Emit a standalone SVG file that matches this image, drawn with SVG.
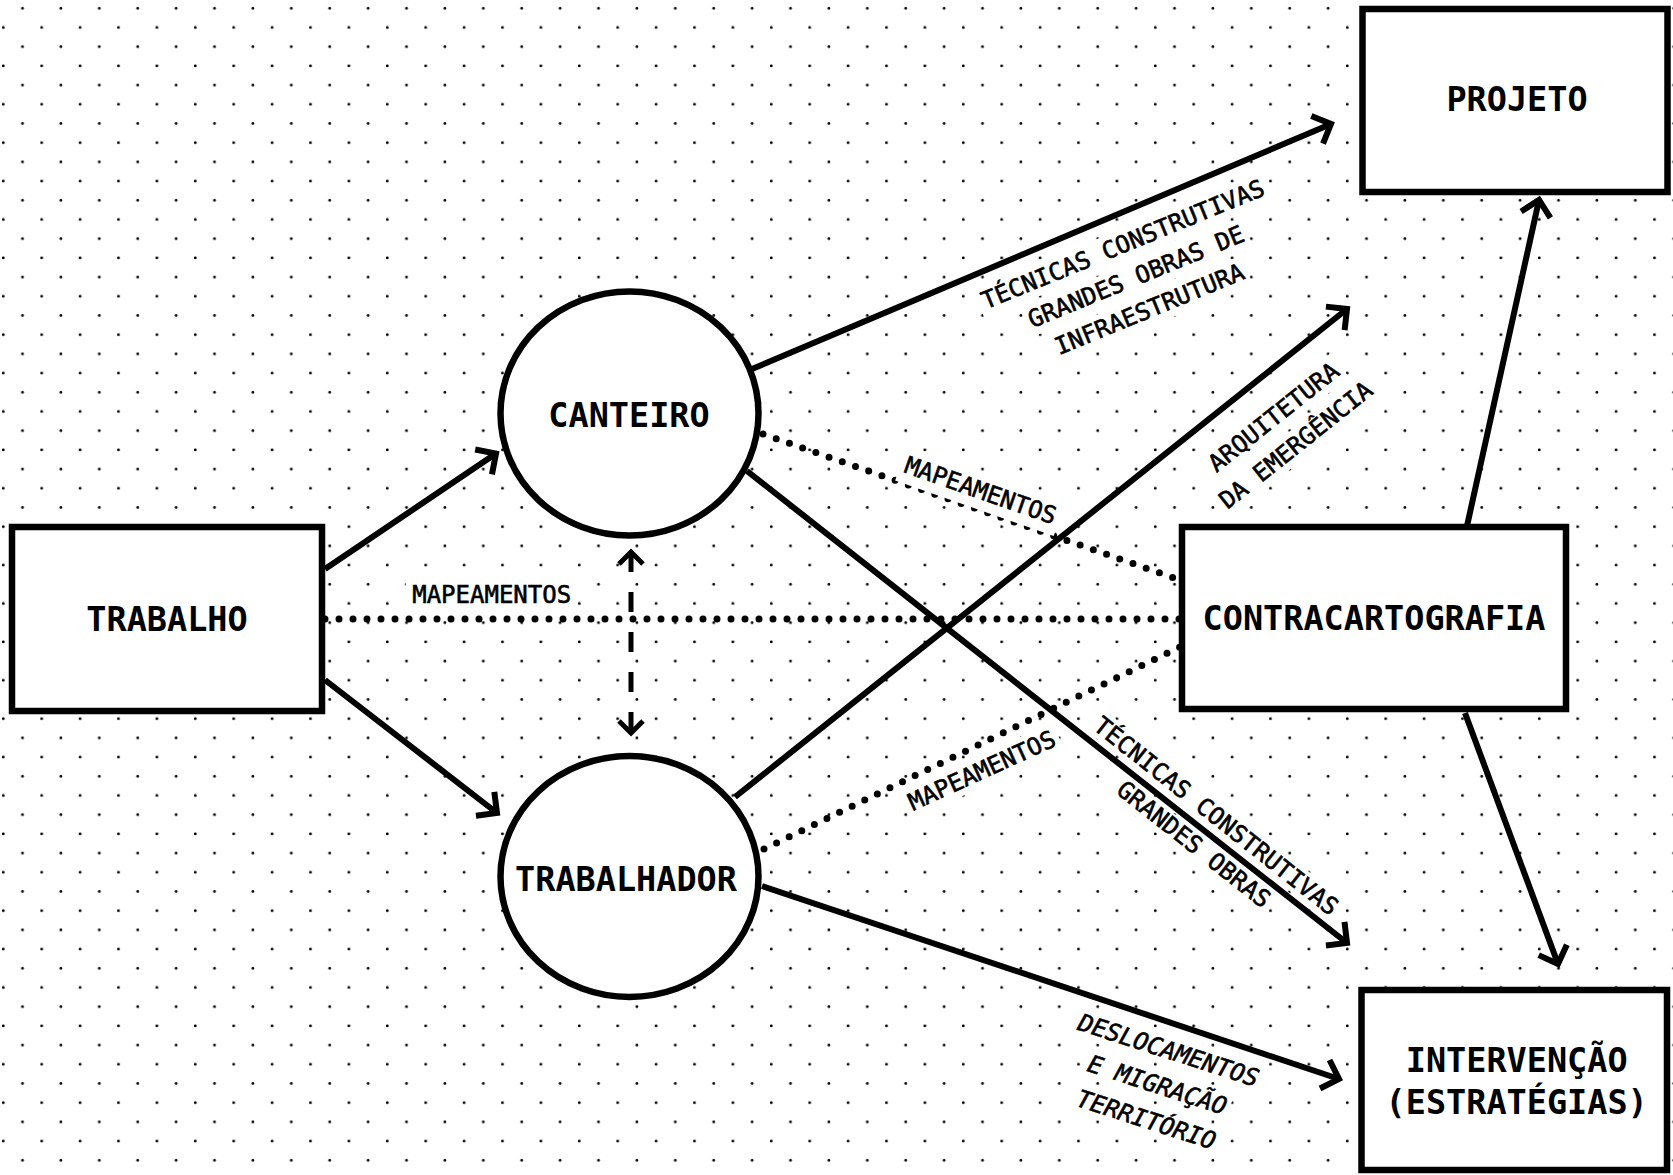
<svg xmlns="http://www.w3.org/2000/svg" width="1673" height="1175" viewBox="0 0 1673 1175">
<style>
.node{fill:#fff;stroke:#000;stroke-width:6.5}
.nt{font-family:"DejaVu Sans Mono","Liberation Mono",monospace;font-weight:bold;font-size:33.5px;fill:#000;text-anchor:middle}
.lt{font-family:"DejaVu Sans Mono","Liberation Mono",monospace;font-size:24px;fill:#000;stroke:#000;stroke-width:0.6;text-anchor:middle}
.it{font-style:italic}
.lb{fill:#fff}
.solid{fill:none;stroke:#000;stroke-width:6;marker-end:url(#ah)}
.dot{fill:none;stroke:#000;stroke-width:7;stroke-linecap:round;stroke-dasharray:0 14}
.dash{fill:none;stroke:#000;stroke-width:5;stroke-dasharray:20 20;marker-start:url(#ahs);marker-end:url(#ahs)}
</style>
<defs>
<pattern id="grid" width="38.4" height="38.4" patternUnits="userSpaceOnUse">
<circle cx="22.5" cy="8.3" r="1.4" fill="#000"/>
<circle cx="3.3" cy="27.5" r="1.4" fill="#000"/>
</pattern>
<marker id="ah" markerUnits="userSpaceOnUse" viewBox="-20 -20 40 40" markerWidth="40" markerHeight="40" refX="0" refY="0" orient="auto" overflow="visible">
<path d="M-15,-15 L0,0 L-15,15" fill="none" stroke="#000" stroke-width="6"/>
</marker>
<marker id="ahs" markerUnits="userSpaceOnUse" viewBox="-20 -20 40 40" markerWidth="40" markerHeight="40" refX="0" refY="0" orient="auto-start-reverse" overflow="visible">
<path d="M-12,-12 L0,0 L-12,12" fill="none" stroke="#000" stroke-width="5"/>
</marker>
</defs>
<rect x="0" y="0" width="1673" height="1175" fill="#fff"/>
<rect x="0" y="0" width="1673" height="1175" fill="url(#grid)"/>

<g id="connectors">
<line class="solid" x1="325" y1="569" x2="496" y2="453.5"/>
<line class="solid" x1="325" y1="680" x2="497" y2="813"/>
<line class="solid" x1="752" y1="369" x2="1331" y2="124"/>
<line class="solid" x1="747" y1="471" x2="1347" y2="943"/>
<line class="solid" x1="735" y1="797" x2="1347" y2="309"/>
<line class="solid" x1="762" y1="886" x2="1339" y2="1079"/>
<line class="solid" x1="1467" y1="526" x2="1539" y2="200"/>
<line class="solid" x1="1465" y1="713" x2="1558" y2="964"/>
<line class="dot" x1="325" y1="619" x2="1182" y2="619"/>
<line class="dot" x1="763" y1="434" x2="1180" y2="580"/>
<line class="dot" x1="764" y1="849" x2="1180" y2="647"/>
<line class="dash" x1="631" y1="552" x2="631" y2="733"/>
</g>

<g id="labels">
<g id="lbl-mapeamentos-1">
<rect class="lb" x="406" y="580" width="171" height="30"/>
<text class="lt" x="491.7" y="603.3">MAPEAMENTOS</text>
</g>
<g id="lbl-mapeamentos-2" transform="translate(977.9,498.3) rotate(19.3)">
<rect class="lb" x="-84" y="-23" width="168" height="33.5"/>
<text class="lt" x="0" y="0">MAPEAMENTOS</text>
</g>
<g id="lbl-mapeamentos-3" transform="translate(985.3,778) rotate(-24.5)">
<rect class="lb" x="-84" y="-23" width="168" height="30"/>
<text class="lt" x="0" y="0">MAPEAMENTOS</text>
</g>
<g id="lbl-tecnicas-1" transform="translate(1126,252) rotate(-22.3)">
<rect class="lb" x="-156" y="-23" width="312" height="31"/>
<rect class="lb" x="-119.5" y="12" width="239" height="31"/>
<rect class="lb" x="-105" y="47" width="210" height="31"/>
<text class="lt" x="0" y="0">TÉCNICAS CONSTRUTIVAS</text>
<text class="lt" x="0" y="35">GRANDES OBRAS DE</text>
<text class="lt" x="0" y="70">INFRAESTRUTURA</text>
</g>
<g id="lbl-tecnicas-2" transform="translate(1211,822.5) rotate(38.3)">
<rect class="lb" x="-156" y="-22" width="312" height="27"/>
<rect class="lb" x="-98" y="16" width="196" height="26"/>
<text class="lt" x="0" y="0">TÉCNICAS CONSTRUTIVAS</text>
<text class="lt" x="0" y="36">GRANDES OBRAS</text>
</g>
<g id="lbl-arquitetura" transform="translate(1273.3,416.7) rotate(-38.5)">
<rect class="lb" x="-84" y="-14" width="168" height="30"/>
<rect class="lb" x="-98" y="21.6" width="196" height="30"/>
<text class="lt" x="0" y="8.75">ARQUITETURA</text>
<text class="lt" x="0" y="44.35">DA EMERGÊNCIA</text>
</g>
<g id="lbl-deslocamentos" transform="translate(1166,1058.1) rotate(17.8)">
<rect class="lb" x="-98" y="-23" width="196" height="30"/>
<rect class="lb" x="-76" y="13.5" width="152" height="30"/>
<rect class="lb" x="-76" y="50" width="152" height="30"/>
<text class="lt it" x="0" y="0">DESLOCAMENTOS</text>
<text class="lt it" x="0" y="36.5">E MIGRAÇÃO</text>
<text class="lt it" x="0" y="73">TERRITÓRIO</text>
</g>
</g>

<g id="node-trabalho">
<rect class="node" x="12" y="527" width="310" height="184"/>
<text class="nt" x="167" y="631">TRABALHO</text>
</g>
<g id="node-canteiro">
<ellipse class="node" cx="629.5" cy="413.5" rx="129" ry="122"/>
<text class="nt" x="629" y="426.7">CANTEIRO</text>
</g>
<g id="node-trabalhador">
<ellipse class="node" cx="629.5" cy="876.5" rx="129" ry="120.5"/>
<text class="nt" x="626" y="890.7">TRABALHADOR</text>
</g>
<g id="node-projeto">
<rect class="node" x="1362.5" y="9" width="305" height="183"/>
<text class="nt" x="1517" y="111">PROJETO</text>
</g>
<g id="node-contracartografia">
<rect class="node" x="1182" y="527" width="384" height="182"/>
<text class="nt" x="1374" y="630">CONTRACARTOGRAFIA</text>
</g>
<g id="node-intervencao">
<rect class="node" x="1361.5" y="990" width="305.5" height="180"/>
<text class="nt" x="1516.7" y="1071.7">INTERVENÇÃO</text>
<text class="nt" x="1516.7" y="1114">(ESTRATÉGIAS)</text>
</g>
</svg>
